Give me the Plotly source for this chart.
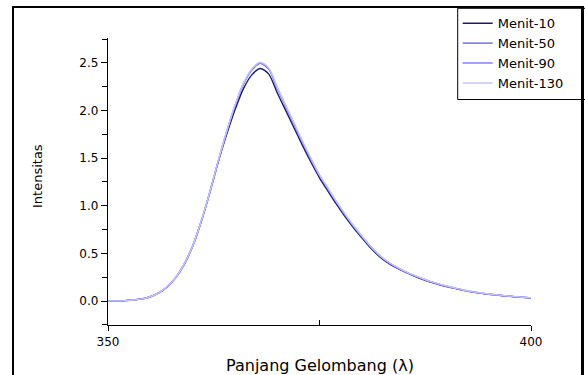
import plotly.graph_objects as go

wavelength = list(range(350, 401))

menit_10 = [0.000, 0.001, 0.004, 0.010, 0.022, 0.045, 0.085, 0.150, 0.245, 0.385,
            0.575, 0.830, 1.128, 1.452, 1.742, 2.005, 2.228, 2.375, 2.442, 2.383,
            2.187, 2.002, 1.817, 1.632, 1.457, 1.294, 1.154, 1.017, 0.889, 0.772,
            0.665, 0.562, 0.474, 0.406, 0.352, 0.308, 0.269, 0.234, 0.202, 0.176,
            0.152, 0.132, 0.112, 0.096, 0.083, 0.071, 0.062, 0.053, 0.045, 0.038,
            0.032]
menit_50 = [0.000, 0.001, 0.004, 0.010, 0.022, 0.045, 0.085, 0.150, 0.245, 0.385,
            0.575, 0.830, 1.130, 1.458, 1.766, 2.045, 2.275, 2.425, 2.495, 2.435,
            2.235, 2.045, 1.855, 1.665, 1.485, 1.318, 1.178, 1.038, 0.908, 0.788,
            0.678, 0.573, 0.484, 0.414, 0.359, 0.314, 0.274, 0.239, 0.206, 0.179,
            0.155, 0.134, 0.114, 0.097, 0.084, 0.072, 0.063, 0.054, 0.046, 0.039,
            0.033]
menit_90 = [0.000, 0.001, 0.004, 0.010, 0.022, 0.045, 0.085, 0.150, 0.245, 0.385,
            0.575, 0.830, 1.130, 1.460, 1.770, 2.050, 2.280, 2.430, 2.500, 2.440,
            2.240, 2.050, 1.860, 1.670, 1.490, 1.320, 1.180, 1.040, 0.910, 0.790,
            0.680, 0.575, 0.485, 0.415, 0.360, 0.315, 0.275, 0.240, 0.207, 0.180,
            0.156, 0.135, 0.115, 0.098, 0.085, 0.073, 0.063, 0.054, 0.046, 0.039,
            0.033]
menit_130 = [0.000, 0.001, 0.004, 0.010, 0.022, 0.045, 0.086, 0.152, 0.247, 0.388,
             0.578, 0.833, 1.134, 1.464, 1.775, 2.055, 2.286, 2.437, 2.507, 2.446,
             2.246, 2.056, 1.866, 1.676, 1.496, 1.326, 1.186, 1.046, 0.915, 0.795,
             0.685, 0.579, 0.489, 0.418, 0.363, 0.317, 0.277, 0.242, 0.209, 0.182,
             0.158, 0.137, 0.116, 0.099, 0.086, 0.074, 0.064, 0.055, 0.047, 0.040,
             0.034]

series_names = ["Menit-10", "Menit-50", "Menit-90", "Menit-130"]
series_values = [menit_10, menit_50, menit_90, menit_130]
series_colors = ["#1c1c66", "#5555ee", "#8080ff", "#c4c4ff"]

y_tickvals = [0.0, 0.5, 1.0, 1.5, 2.0, 2.5]
x_tickvals = [350, 400]
x_ticktext = ["350", "400"]

fig = go.Figure()
for name, vals, col in zip(series_names, series_values, series_colors):
    fig.add_trace(go.Scatter(x=wavelength, y=vals, mode="lines", name=name,
                             line=dict(color=col, width=1.4, shape="spline",
                                       smoothing=0.8)))

L, R, T, B = 108, 54, 38, 50
W, H = 585, 375
pw, ph = W - L - R, H - T - B


def px(x):
    return (x - L) / pw


def py(y):
    return (H - B - y) / ph


fig.update_layout(
    width=W, height=H,
    margin=dict(l=L, r=R, t=T, b=B, pad=0, autoexpand=False),
    paper_bgcolor="white", plot_bgcolor="white",
    font=dict(family="DejaVu Sans", color="black"),
    showlegend=True,
    legend=dict(x=px(457.7), y=py(8.3), xanchor="left", yanchor="top",
                borderwidth=0, bgcolor="rgba(0,0,0,0)",
                font=dict(size=13, color="black"), tracegroupgap=0),
    xaxis=dict(range=[350, 400], showline=True, linecolor="black", linewidth=1.3,
               ticks="outside", ticklen=5, tickwidth=1.2, tickcolor="black",
               tickvals=x_tickvals, ticktext=x_ticktext,
               tickfont=dict(size=12, color="black"),
               minor=dict(tickvals=[375], ticks="inside", ticklen=5, tickwidth=1.2,
                          tickcolor="black", showgrid=False),
               showgrid=False, zeroline=False, mirror=False, fixedrange=True),
    yaxis=dict(range=[-0.252, 2.762], showline=True, linecolor="black", linewidth=1.3,
               ticks="outside", ticklen=6, tickwidth=1.2, tickcolor="black",
               tickvals=y_tickvals, tickformat=".1f",
               tickfont=dict(size=12, color="black"),
               minor=dict(dtick=0.25, tick0=0, ticks="outside", ticklen=5, tickwidth=1.2,
                          tickcolor="black", showgrid=False),
               showgrid=False, zeroline=False, mirror=False, fixedrange=True),
    annotations=[
        dict(text="Panjang Gelombang (λ)", xref="paper", yref="paper",
             x=px(320), y=py(365), xanchor="center", yanchor="middle",
             showarrow=False, font=dict(size=16, color="black")),
        dict(text="Intensitas", xref="paper", yref="paper",
             x=px(37), y=py(176), xanchor="center", yanchor="middle",
             textangle=-90, showarrow=False, font=dict(size=13, color="black")),
    ],
    shapes=[
        # legend box, running under the right frame edge
        dict(type="rect", xref="paper", yref="paper", x0=px(457.7), x1=px(600),
             y0=py(8.3), y1=py(99.5), line=dict(color="black", width=1)),
        # outer frame
        dict(type="line", xref="paper", yref="paper", x0=px(13), x1=px(13),
             y0=py(7), y1=py(400), line=dict(color="black", width=2)),
        dict(type="line", xref="paper", yref="paper", x0=px(12), x1=px(584),
             y0=py(7), y1=py(7), line=dict(color="black", width=2)),
        dict(type="line", xref="paper", yref="paper", x0=px(582.5), x1=px(582.5),
             y0=py(6), y1=py(400), line=dict(color="black", width=3)),
    ],
)

fig.write_html("out.html",
               config={"displayModeBar": False},
               post_script="document.body.style.margin='0px';document.body.style.overflow='hidden';")
